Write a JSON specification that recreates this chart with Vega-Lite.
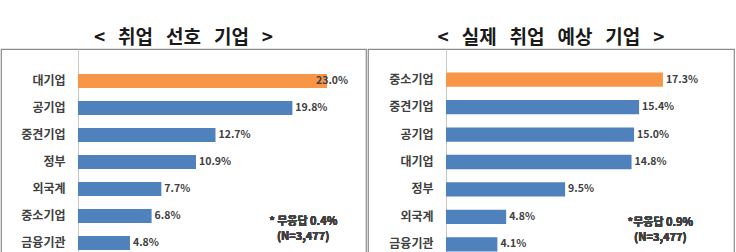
{
  "$schema": "https://vega.github.io/schema/vega-lite/v6.json",
  "padding": {"left": 0, "top": 28, "right": 0, "bottom": 0},
  "background": "white",
  "spacing": 0,
  "config": {
    "font": "Noto Sans CJK KR",
    "view": {"stroke": "#8c8c8c", "strokeWidth": 1.2},
    "title": {"fontSize": 19, "fontWeight": "bold", "color": "#1a1a1a", "offset": 1, "anchor": "middle"}
  },
  "hconcat": [
    {
      "width": 365,
      "height": 226,
      "title": "<\u00a0\u00a0\u00a0취업\u00a0\u00a0\u00a0선호\u00a0\u00a0\u00a0기업\u00a0\u00a0\u00a0>",
      "data": {"values": [
        {"type": "대기업", "pct": 23.0},
        {"type": "공기업", "pct": 19.8},
        {"type": "중견기업", "pct": 12.7},
        {"type": "정부", "pct": 10.9},
        {"type": "외국계", "pct": 7.7},
        {"type": "중소기업", "pct": 6.8},
        {"type": "금융기관", "pct": 4.8}
      ]},
      "transform": [
        {"joinaggregate": [{"op": "max", "field": "pct", "as": "maxPct"}]},
        {"calculate": "format(datum.pct, '.1f') + '%'", "as": "label"}
      ],
      "encoding": {
        "y": {"field": "type", "type": "nominal", "sort": null,
          "scale": {"paddingInner": 0.48, "paddingOuter": 0.93},
          "axis": {"title": null, "offset": -77, "ticks": false, "domainColor": "#c8c8c8", "labelFontSize": 12, "labelFontWeight": "bold", "labelColor": "#404040", "labelPadding": 13}},
        "x": {"field": "pct", "type": "quantitative", "scale": {"domain": [-7.11, 26.6], "nice": false, "zero": false}, "axis": null}
      },
      "layer": [
        {"mark": {"type": "bar"},
         "encoding": {"x2": {"datum": 0},
           "color": {"condition": {"test": "datum.pct == datum.maxPct", "value": "#F79646"}, "value": "#4F81BD"}}},
        {"transform": [{"filter": "datum.pct != datum.maxPct"}],
         "mark": {"type": "text", "align": "left", "dx": 3, "fontSize": 10.5, "fontWeight": "bold", "color": "#404040"},
         "encoding": {"text": {"field": "label"}}},
        {"transform": [{"filter": "datum.pct == datum.maxPct"}],
         "mark": {"type": "text", "align": "left", "dx": -11, "fontSize": 10.5, "fontWeight": "bold", "color": "#404040"},
         "encoding": {"text": {"field": "label"}}},
        {"mark": {"type": "text", "align": "center", "baseline": "middle", "dy": 6, "lineHeight": 15, "fontSize": 11, "fontWeight": "bold", "color": "#404040"},
         "encoding": {"x": {"datum": 20.8}, "y": {"datum": "중소기업"}, "text": {"value": ["* 무응답 0.4%", "(N=3,477)"]}}}
      ]
    },
    {
      "width": 366,
      "height": 226,
      "title": "<\u00a0\u00a0\u00a0실제\u00a0\u00a0\u00a0취업\u00a0\u00a0\u00a0예상\u00a0\u00a0\u00a0기업\u00a0\u00a0\u00a0>",
      "data": {"values": [
        {"type": "중소기업", "pct": 17.3},
        {"type": "중견기업", "pct": 15.4},
        {"type": "공기업", "pct": 15.0},
        {"type": "대기업", "pct": 14.8},
        {"type": "정부", "pct": 9.5},
        {"type": "외국계", "pct": 4.8},
        {"type": "금융기관", "pct": 4.1}
      ]},
      "transform": [
        {"joinaggregate": [{"op": "max", "field": "pct", "as": "maxPct"}]},
        {"calculate": "format(datum.pct, '.1f') + '%'", "as": "label"}
      ],
      "encoding": {
        "y": {"field": "type", "type": "nominal", "sort": null,
          "scale": {"paddingInner": 0.48, "paddingOuter": 0.86},
          "axis": {"title": null, "offset": -78, "ticks": false, "domainColor": "#c8c8c8", "labelFontSize": 12, "labelFontWeight": "bold", "labelColor": "#404040", "labelPadding": 13}},
        "x": {"field": "pct", "type": "quantitative", "scale": {"domain": [-6.22, 22.97], "nice": false, "zero": false}, "axis": null}
      },
      "layer": [
        {"mark": {"type": "bar"},
         "encoding": {"x2": {"datum": 0},
           "color": {"condition": {"test": "datum.pct == datum.maxPct", "value": "#F79646"}, "value": "#4F81BD"}}},
        {"mark": {"type": "text", "align": "left", "dx": 3, "fontSize": 10.5, "fontWeight": "bold", "color": "#404040"},
         "encoding": {"text": {"field": "label"}}},
        {"mark": {"type": "text", "align": "center", "baseline": "middle", "dy": 6, "lineHeight": 15, "fontSize": 11, "fontWeight": "bold", "color": "#404040"},
         "encoding": {"x": {"datum": 17.1}, "y": {"datum": "외국계"}, "text": {"value": ["*무응답 0.9%", "(N=3,477)"]}}}
      ]
    }
  ]
}
